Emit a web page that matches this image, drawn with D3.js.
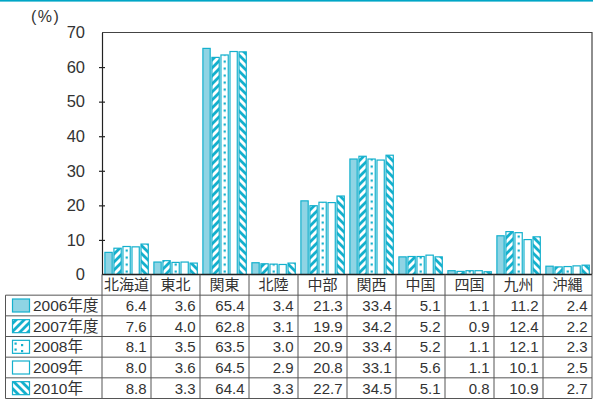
<!DOCTYPE html>
<html>
<head>
<meta charset="utf-8">
<script src="https://cdn.jsdelivr.net/npm/d3@7"></script>
<style>
  html, body { margin: 0; padding: 0; background: #fff; }
  svg { display: block; }
  text { font-family: "Liberation Sans", Arial, "Noto Sans CJK JP", sans-serif; fill: #333; }
</style>
</head>
<body>
<svg id="chart" width="593" height="403"></svg>
<script>
// Regions along the x axis / table columns
const categories = ["北海道", "東北", "関東", "北陸", "中部", "関西", "中国", "四国", "九州", "沖縄"];
// Survey years (table row labels)
const years = ["2006年度", "2007年度", "2008年", "2009年", "2010年"];
// Share (%) per region for each year
const v2006 = [6.4, 3.6, 65.4, 3.4, 21.3, 33.4, 5.1, 1.1, 11.2, 2.4];
const v2007 = [7.6, 4.0, 62.8, 3.1, 19.9, 34.2, 5.2, 0.9, 12.4, 2.2];
const v2008 = [8.1, 3.5, 63.5, 3.0, 20.9, 33.4, 5.2, 1.1, 12.1, 2.3];
const v2009 = [8.0, 3.6, 64.5, 2.9, 20.8, 33.1, 5.6, 1.1, 10.1, 2.5];
const v2010 = [8.8, 3.3, 64.4, 3.3, 22.7, 34.5, 5.1, 0.8, 10.9, 2.7];
const yTicks = [0, 10, 20, 30, 40, 50, 60, 70];

const seriesValues = [v2006, v2007, v2008, v2009, v2010];

const cyan = "#14b0cd";
const cyanFill = "#8fd4e4";
const ink = "#333";

const svg = d3.select("#chart");
const defs = svg.append("defs");

const plotLeft = 102, plotRight = 592, plotTop = 32.5, plotBottom = 274.5;
const tableBottom = 398.5, tableLeft = 5.5;

const x = d3.scaleBand().domain(categories).range([plotLeft, plotRight]);
const inner = d3.scaleBand().domain(years).range([2.3, 46.9]).paddingInner(0.06);
const y = d3.scaleLinear().domain([0, 70]).range([plotBottom, plotTop]);

// Hatch patterns: "/" for 2007, "\" for 2010
function hatch(id, forward) {
  const p = defs.append("pattern").attr("id", id)
    .attr("patternUnits", "userSpaceOnUse").attr("width", 8).attr("height", 8);
  p.append("rect").attr("width", 8).attr("height", 8).attr("fill", "#fff");
  p.append("path")
    .attr("d", forward ? "M-2,2 L2,-2 M0,8 L8,0 M6,10 L10,6" : "M-2,6 L2,10 M0,0 L8,8 M6,-2 L10,2")
    .attr("stroke", cyan).attr("stroke-width", 2.8);
}
hatch("hatchF", true);
hatch("hatchB", false);

// Dotted centre column for 2008 bars, aligned with the third bar of each group
const dotX = inner("2008年") + inner.bandwidth() / 2;
const dots = defs.append("pattern").attr("id", "dots")
  .attr("patternUnits", "userSpaceOnUse").attr("width", x.step()).attr("height", 7)
  .attr("x", plotLeft).attr("y", plotBottom);
dots.append("rect").attr("width", x.step()).attr("height", 7).attr("fill", "#fff");
dots.append("rect").attr("x", dotX - 1).attr("y", 3).attr("width", 2.2).attr("height", 2.2).attr("fill", cyan);

const swDots = defs.append("pattern").attr("id", "swdots")
  .attr("patternUnits", "userSpaceOnUse").attr("width", 18).attr("height", 6);
swDots.append("rect").attr("width", 18).attr("height", 6).attr("fill", "#fff");
swDots.append("rect").attr("x", 3).attr("y", 2).attr("width", 2.2).attr("height", 2.2).attr("fill", cyan);
swDots.append("rect").attr("x", 14.5).attr("y", 0.5).attr("width", 2.2).attr("height", 2.2).attr("fill", cyan);

const fills = [cyanFill, "url(#hatchF)", "url(#dots)", "#fff", "url(#hatchB)"];
const swatchFills = [cyanFill, "url(#hatchF)", "url(#swdots)", "#fff", "url(#hatchB)"];

// Top rule
svg.append("rect").attr("x", 0).attr("y", 0).attr("width", 593).attr("height", 1.6).attr("fill", "#00a6c6");

// Bars
const bars = [];
seriesValues.forEach((vals, si) => {
  vals.forEach((v, ci) => bars.push({ cat: categories[ci], year: years[si], si, v }));
});
svg.append("g").selectAll("rect").data(bars).join("rect")
  .attr("x", d => x(d.cat) + inner(d.year) + 0.6)
  .attr("y", d => y(d.v))
  .attr("width", inner.bandwidth() - 1.2)
  .attr("height", d => y(0) - y(d.v))
  .attr("fill", d => fills[d.si])
  .attr("stroke", cyan).attr("stroke-width", 1.2);

// Frame: top and right edges
svg.append("path")
  .attr("d", `M${plotLeft},${plotTop} H${plotRight} V${plotBottom}`)
  .attr("fill", "none").attr("stroke", "#444").attr("stroke-width", 1.2);

// Y axis with ticks crossing the line
const yAxis = d3.axisLeft(y).tickValues(yTicks).tickSize(0).tickPadding(17);
const ga = svg.append("g").attr("transform", `translate(${plotLeft},0)`).call(yAxis);
ga.select(".domain").attr("stroke", "#222").attr("stroke-width", 1.2);
ga.selectAll(".tick text").attr("font-size", 16.5).attr("fill", ink)
  .attr("font-family", '"Liberation Sans", Arial, sans-serif');
ga.selectAll(".tick").filter(d => d > 0 && d < 70).append("line")
  .attr("x1", -3).attr("x2", 3).attr("stroke", "#222").attr("stroke-width", 1.2);

svg.append("text").attr("x", 31).attr("y", 22).attr("font-size", 16)
  .attr("letter-spacing", 1.5).text("(%)");

// Data table
const rowH = (tableBottom - plotBottom) / 6;
const rowTop = i => plotBottom + rowH * (i + 1);
const grid = svg.append("g").attr("stroke", "#555").attr("stroke-width", 1).attr("fill", "none");

// horizontal lines
grid.append("line").attr("x1", plotLeft).attr("x2", plotRight).attr("y1", plotBottom).attr("y2", plotBottom).attr("stroke", "#222").attr("stroke-width", 1.3);
d3.range(6).forEach(i => {
  grid.append("line").attr("x1", tableLeft).attr("x2", plotRight)
    .attr("y1", rowTop(i)).attr("y2", rowTop(i));
});
// vertical lines
grid.append("line").attr("x1", tableLeft).attr("x2", tableLeft).attr("y1", rowTop(0)).attr("y2", tableBottom);
categories.forEach(c => {
  grid.append("line").attr("x1", x(c)).attr("x2", x(c)).attr("y1", plotBottom).attr("y2", tableBottom);
});
grid.append("line").attr("x1", plotRight).attr("x2", plotRight).attr("y1", plotBottom).attr("y2", tableBottom);

// header labels
svg.append("g").selectAll("text").data(categories).join("text")
  .attr("x", d => x(d) + x.step() / 2)
  .attr("y", plotBottom + rowH / 2 + 5.5)
  .attr("text-anchor", "middle").attr("font-size", 15)
  .attr("font-family", '"Noto Sans CJK JP", sans-serif')
  .text(d => d);

// row labels with swatches
years.forEach((yr, i) => {
  const top = rowTop(i);
  svg.append("rect").attr("x", 12.5).attr("y", top + rowH / 2 - 6.5)
    .attr("width", 17).attr("height", 13)
    .attr("fill", swatchFills[i]).attr("stroke", cyan).attr("stroke-width", 1.2);
  svg.append("text").attr("x", 33).attr("y", top + rowH / 2 + 5.5)
    .attr("font-size", 15.5).text(yr);
});

// values
seriesValues.forEach((vals, si) => {
  svg.append("g").selectAll("text").data(vals).join("text")
    .attr("x", (d, ci) => x(categories[ci]) + x.step() - 4.5)
    .attr("y", rowTop(si) + rowH / 2 + 5.5)
    .attr("text-anchor", "end").attr("font-size", 15)
    .text(d => d.toFixed(1));
});
</script>
</body>
</html>
